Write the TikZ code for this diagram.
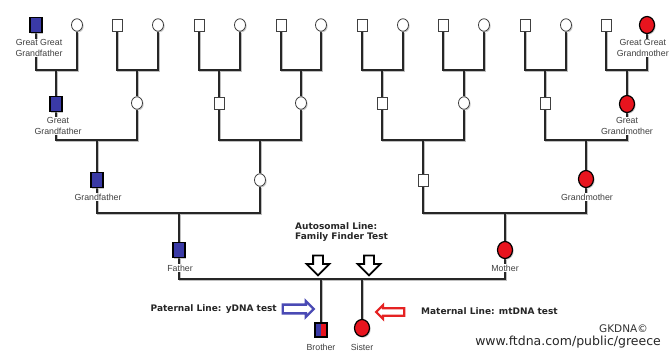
\documentclass[tikz,border=0pt]{standalone}
\usepackage{fontspec}
\setmainfont{Liberation Sans}
\newfontfamily\dvs{DejaVu Sans}
\usetikzlibrary{shapes.geometric,shapes.arrows,shadows,backgrounds}
\definecolor{gblue}{HTML}{3A3AA6}
\definecolor{gred}{HTML}{E8141E}
\definecolor{abl}{HTML}{4A4AB4}
\definecolor{ard}{HTML}{E52222}
\begin{document}
\begin{tikzpicture}[x=1pt,y=-1pt,
 sh/.style={drop shadow={shadow xshift=1.2pt,shadow yshift=-1.2pt,fill=black!40}},
 wsq/.style={rectangle,draw=black!75,line width=0.8pt,fill=white,minimum width=10pt,minimum height=12pt,inner sep=0pt,sh},
 wci/.style={ellipse,draw=black!75,line width=0.8pt,fill=white,minimum width=11pt,minimum height=12.5pt,inner sep=0pt,sh},
 bsq/.style={rectangle,draw=black,line width=1.2pt,fill=gblue,minimum width=12pt,minimum height=15pt,inner sep=0pt,sh},
 rci/.style={ellipse,draw=black,line width=1.2pt,fill=gred,minimum width=15pt,minimum height=17pt,inner sep=0pt,sh},
 lbl/.style={font=\fontsize{8.8}{10.5}\selectfont,text=black!75,fill=white,inner sep=0.6pt,align=center},
 ln/.style={draw=black!85,line width=1.6pt,preaction={draw=black!25,line width=2.4pt,transform canvas={xshift=0.9pt,yshift=-0.9pt}}},
 boldtxt/.style={font=\dvs\bfseries\fontsize{9}{10.5}\selectfont,text=black!85,inner sep=0pt},
 darr/.style={single arrow,draw=black,line width=1.8pt,fill=white,shape border rotate=270,minimum height=20pt,inner sep=4pt,single arrow head extend=6.5pt},
 ]
\useasboundingbox (0,0) rectangle (670,351);

% generation 5 (top row)
\node[bsq] (t1) at (36,25) {};
\node[rci] (t16) at (647,25) {};
\foreach \i/\xx in {2/77,3/117,4/158,5/199,6/240,7/281,8/321,9/362,10/403,11/443,12/484,13/525,14/566,15/606}{
  \ifodd\i\relax
    \node[wsq] (t\i) at (\xx,25) {};
  \else
    \node[wci] (t\i) at (\xx,25) {};
  \fi
}
% generation 4
\node[bsq] (g1) at (56,104) {};
\node[wci] (g2) at (137,103) {};
\node[wsq] (g3) at (219,103) {};
\node[wci] (g4) at (301,103) {};
\node[wsq] (g5) at (382,103) {};
\node[wci] (g6) at (464,103) {};
\node[wsq] (g7) at (545,103) {};
\node[rci] (g8) at (627,104) {};
% generation 3
\node[bsq] (h1) at (97,180) {};
\node[wci] (h2) at (260,180) {};
\node[wsq] (h3) at (423,180) {};
\node[rci] (h4) at (586,179) {};
% generation 2
\node[bsq] (father) at (179,250) {};
\node[rci] (mother) at (505,250) {};
% generation 1
\node[rectangle,draw=black,line width=1.2pt,minimum width=12pt,minimum height=14pt,inner sep=0pt,sh,
  path picture={\fill[gblue] (path picture bounding box.south west) rectangle (path picture bounding box.north);
                \fill[gred] (path picture bounding box.north) rectangle (path picture bounding box.south east);}]
  (brother) at (321,330) {};
\node[rci] (sister) at (362,328) {};

% labels
\node[lbl] (l1) at (39,48) {Great Great\\Grandfather};
\node[lbl] (l2) at (58,126) {Great\\Grandfather};
\node[lbl] (l3) at (98,197) {Grandfather};
\node[lbl] (l4) at (180,268) {Father};
\node[lbl,anchor=east] (l5) at (669.5,48) {Great Great\\Grandmother};
\node[lbl] (l6) at (627,126) {Great\\Grandmother};
\node[lbl] (l7) at (587,197) {Grandmother};
\node[lbl] (l8) at (505,268) {Mother};
\node[lbl] (l9) at (321,347) {Brother};
\node[lbl] (l10) at (362,347) {Sister};

% junctions
\foreach \j/\x in {1/56,2/137,3/219,4/301,5/382,6/464,7/545,8/627}{
  \coordinate (ja\j) at (\x,70);
}
\foreach \j/\x in {1/97,2/260,3/423,4/586}{
  \coordinate (jb\j) at (\x,140);
}
\coordinate (jc1) at (179,213);
\coordinate (jc2) at (505,213);
\coordinate (jd) at (342,279);
\coordinate (jbro) at (321,279);
\coordinate (jsis) at (362,279);

\begin{pgfonlayer}{background}
\fill[white] (0,0) rectangle (670,351);
\foreach \j/\a/\b in {1/1/2,2/3/4,3/5/6,4/7/8,5/9/10,6/11/12,7/13/14,8/15/16}{
  \draw[ln] (t\a) |- (ja\j) -| (t\b);
  \draw[ln] (ja\j) -- (g\j);
}
\foreach \j/\a/\b in {1/1/2,2/3/4,3/5/6,4/7/8}{
  \draw[ln] (g\a) |- (jb\j) -| (g\b);
  \draw[ln] (jb\j) -- (h\j);
}
\draw[ln] (h1) |- (jc1) -| (h2);
\draw[ln] (jc1) -- (father);
\draw[ln] (h3) |- (jc2) -| (h4);
\draw[ln] (jc2) -- (mother);
\draw[ln] (father) |- (jd) -| (mother);
\draw[ln] (jbro) -- (brother);
\draw[ln] (jsis) -- (sister);
\end{pgfonlayer}

% annotations
\node[boldtxt,anchor=west,align=left] (auto) at (295,232) {Autosomal Line:\\Family Finder Test};
\node[darr] (a1) at (318,263) {};
\node[darr] (a2) at (369,263) {};
\node[boldtxt,anchor=east] (pat) at (277,309) {Paternal Line: yDNA test};
\node[single arrow,draw=abl,line width=2.4pt,fill=white,minimum height=31pt,inner sep=3.2pt,single arrow head extend=3.5pt] (barr) at (296,309) {};
\node[single arrow,draw=ard,line width=2.2pt,fill=white,shape border rotate=180,minimum height=28pt,inner sep=2.6pt,single arrow head extend=3.2pt] (rarr) at (392,312) {};
\node[boldtxt,anchor=west] (mat) at (421,311) {Maternal Line: mtDNA test};
\node[anchor=east,inner sep=0pt,font=\dvs\fontsize{10.5}{12}\selectfont,text=black!80] (gk) at (648,329) {GKDNA©};
\node[anchor=east,inner sep=0pt,font=\dvs\fontsize{12.5}{14}\selectfont,text=black!85] (url) at (661,342) {www.ftdna.com/public/greece};
\end{tikzpicture}
\end{document}
